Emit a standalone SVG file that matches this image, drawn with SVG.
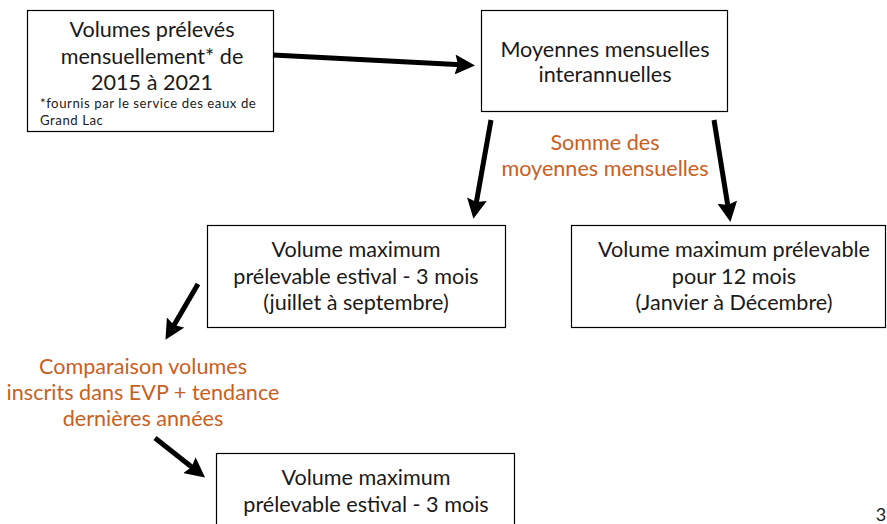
<svg xmlns="http://www.w3.org/2000/svg" width="887" height="524" viewBox="0 0 887 524">
<defs>
<style>
.box{fill:#fff;stroke:#000;stroke-width:1.2}
.t{font-family:Lato,"Open Sans",sans-serif;font-size:21.6px;fill:#1a1a1a;text-anchor:middle}
.s{font-family:Lato,"Open Sans",sans-serif;font-size:13.2px;letter-spacing:0.55px;fill:#1a1a1a}
.o{font-family:Lato,"Open Sans",sans-serif;font-size:21.6px;fill:#C8601F;text-anchor:middle}
.c{stroke:#000;stroke-width:5;fill:none;marker-end:url(#ah)}
</style>
<marker id="ah" markerWidth="4" markerHeight="4" refX="2.2" refY="2" orient="auto" markerUnits="strokeWidth">
<path d="M0,0 L4,2 L0,4 L0.6,2 Z" fill="#000"/>
</marker>
</defs>
<rect width="887" height="524" fill="#fff"/>
<g id="n1">
<rect class="box" x="27.5" y="10.5" width="246" height="121"/>
<text class="t" x="152" y="37">Volumes prélevés</text>
<text class="t" x="152" y="64">mensuellement* de</text>
<text class="t" x="152" y="90">2015 à 2021</text>
<text class="s" x="40" y="108">*fournis par le service des eaux de</text>
<text class="s" x="40" y="125">Grand Lac</text>
</g>
<g id="n2">
<rect class="box" x="481.5" y="10.5" width="246" height="101"/>
<text class="t" x="605" y="57">Moyennes mensuelles</text>
<text class="t" x="605" y="82">interannuelles</text>
</g>
<g id="n3">
<rect class="box" x="207.5" y="225.5" width="298" height="102"/>
<text class="t" x="356" y="257">Volume maximum</text>
<text class="t" x="356" y="284">prélevable estival - 3 mois</text>
<text class="t" x="356" y="310">(juillet à septembre)</text>
</g>
<g id="n4">
<rect class="box" x="571.5" y="225.5" width="314" height="102"/>
<text class="t" x="734" y="257">Volume maximum prélevable</text>
<text class="t" x="734" y="284">pour 12 mois</text>
<text class="t" x="734" y="310">(Janvier à Décembre)</text>
</g>
<g id="n5">
<rect class="box" x="216.5" y="453.5" width="298" height="80"/>
<text class="t" x="366" y="485">Volume maximum</text>
<text class="t" x="366" y="512">prélevable estival - 3 mois</text>
</g>
<g id="l1">
<text class="o" x="605" y="150">Somme des</text>
<text class="o" x="605" y="176">moyennes mensuelles</text>
</g>
<g id="l2">
<text class="o" x="143" y="374">Comparaison volumes</text>
<text class="o" x="143" y="400">inscrits dans EVP + tendance</text>
<text class="o" x="143" y="426">dernières années</text>
</g>
<g id="connectors">
<line class="c" x1="273" y1="55" x2="466" y2="65"/>
<line class="c" x1="491" y1="120" x2="475" y2="210"/>
<line class="c" x1="714" y1="120" x2="729" y2="213"/>
<line class="c" x1="198" y1="284" x2="170" y2="332"/>
<line class="c" x1="155" y1="438" x2="198" y2="472"/>
</g>
<text class="t" x="881" y="521" style="font-size:18px">3</text>
</svg>
